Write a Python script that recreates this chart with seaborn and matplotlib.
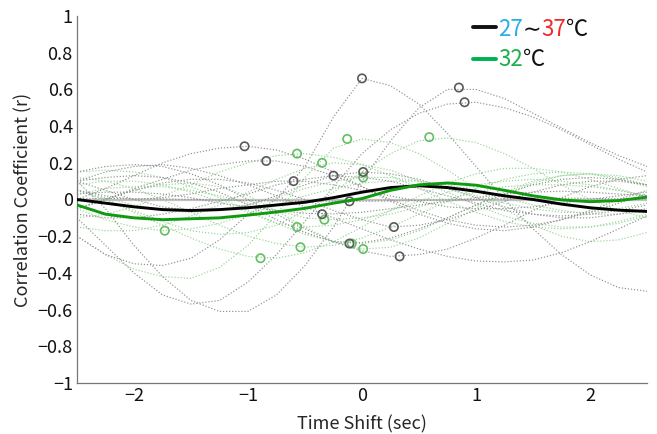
import numpy as np
import pandas as pd
import matplotlib
matplotlib.use("Agg")
import matplotlib.pyplot as plt
import seaborn as sns

# ---------------- data ----------------
lag = [-2.5, -2.25, -2.0, -1.75, -1.5, -1.25, -1.0, -0.75, -0.5, -0.25, 0.0,
       0.25, 0.5, 0.75, 1.0, 1.25, 1.5, 1.75, 2.0, 2.25, 2.5]

mean_all = [0.0, -0.02, -0.04, -0.055, -0.06, -0.055, -0.045, -0.03, -0.015, 0.01, 0.04,
            0.065, 0.075, 0.065, 0.045, 0.02, 0.0, -0.025, -0.045, -0.058, -0.065]
mean_32 = [-0.03, -0.08, -0.10, -0.11, -0.105, -0.10, -0.085, -0.068, -0.048, -0.02, 0.005,
           0.05, 0.08, 0.09, 0.078, 0.05, 0.02, -0.002, -0.012, -0.006, 0.013]

gray_curves = [
    [-0.2, -0.3, -0.35, -0.36, -0.32, -0.22, -0.08, 0.0, 0.18, 0.45, 0.66, 0.62, 0.52, 0.36, 0.18, 0.0, -0.16, -0.3, -0.41, -0.48, -0.5],
    [0.1, -0.05, -0.25, -0.42, -0.55, -0.61, -0.61, -0.52, -0.36, -0.15, 0.1, 0.32, 0.5, 0.6, 0.6, 0.55, 0.47, 0.39, 0.31, 0.24, 0.18],
    [-0.1, -0.25, -0.4, -0.52, -0.57, -0.55, -0.45, -0.3, -0.12, 0.07, 0.25, 0.38, 0.47, 0.52, 0.53, 0.5, 0.45, 0.38, 0.3, 0.22, 0.15],
    [0.0, 0.06, 0.13, 0.2, 0.25, 0.28, 0.29, 0.27, 0.22, 0.15, 0.07, -0.01, -0.08, -0.13, -0.16, -0.17, -0.15, -0.11, -0.06, 0.0, 0.05],
    [-0.05, 0.0, 0.06, 0.11, 0.16, 0.19, 0.21, 0.21, 0.18, 0.13, 0.07, 0.0, -0.06, -0.11, -0.14, -0.15, -0.14, -0.11, -0.07, -0.02, 0.03],
    [0.05, 0.02, 0.0, 0.01, 0.03, 0.06, 0.08, 0.1, 0.1, 0.08, 0.05, 0.02, -0.01, -0.04, -0.05, -0.05, -0.04, -0.02, 0.0, 0.02, 0.04],
    [0.03, 0.04, 0.04, 0.03, 0.01, -0.02, -0.04, -0.06, -0.075, -0.078, -0.07, -0.05, -0.03, -0.01, 0.01, 0.03, 0.04, 0.045, 0.04, 0.03, 0.02],
    [-0.08, -0.1, -0.1, -0.08, -0.05, -0.01, 0.03, 0.08, 0.11, 0.13, 0.12, 0.1, 0.06, 0.02, -0.02, -0.06, -0.08, -0.09, -0.08, -0.06, -0.03],
    [0.005, 0.006, 0.005, 0.003, 0.0, -0.003, -0.006, -0.008, -0.009, -0.01, -0.01, -0.008, -0.005, -0.002, 0.001, 0.004, 0.006, 0.007, 0.006, 0.004, 0.002],
    [0.1, 0.12, 0.13, 0.12, 0.09, 0.04, -0.03, -0.11, -0.18, -0.23, -0.235, -0.21, -0.16, -0.1, -0.03, 0.03, 0.08, 0.11, 0.12, 0.11, 0.08],
    [0.1, 0.05, 0.0, -0.04, -0.06, -0.06, -0.03, 0.02, 0.08, 0.13, 0.15, 0.14, 0.11, 0.06, 0.01, -0.04, -0.08, -0.1, -0.1, -0.08, -0.05],
    [-0.05, 0.0, 0.05, 0.09, 0.11, 0.11, 0.09, 0.05, 0.0, -0.06, -0.11, -0.15, -0.14, -0.11, -0.06, -0.01, 0.04, 0.08, 0.1, 0.1, 0.08],
    [0.15, 0.18, 0.19, 0.18, 0.14, 0.08, 0.0, -0.08, -0.16, -0.23, -0.28, -0.31, -0.3, -0.27, -0.21, -0.14, -0.06, 0.01, 0.07, 0.11, 0.13],
    [0.1, 0.15, 0.18, 0.19, 0.17, 0.13, 0.08, 0.02, -0.04, -0.1, -0.16, -0.22, -0.27, -0.31, -0.335, -0.34, -0.33, -0.29, -0.23, -0.16, -0.09],
]

green_curves = [
    [-0.05, -0.11, -0.15, -0.17, -0.16, -0.13, -0.08, -0.03, 0.02, 0.06, 0.09, 0.1, 0.1, 0.08, 0.05, 0.01, -0.03, -0.06, -0.08, -0.08, -0.06],
    [0.05, 0.0, -0.07, -0.14, -0.21, -0.27, -0.31, -0.32, -0.29, -0.23, -0.15, -0.06, 0.02, 0.09, 0.14, 0.17, 0.17, 0.15, 0.11, 0.06, 0.01],
    [-0.1, -0.08, -0.04, 0.02, 0.08, 0.15, 0.2, 0.24, 0.25, 0.23, 0.19, 0.13, 0.06, -0.01, -0.07, -0.12, -0.15, -0.16, -0.15, -0.12, -0.08],
    [0.08, 0.1, 0.1, 0.08, 0.04, -0.01, -0.07, -0.13, -0.15, -0.14, -0.11, -0.06, -0.01, 0.04, 0.08, 0.1, 0.11, 0.1, 0.08, 0.05, 0.02],
    [0.12, 0.1, 0.06, 0.0, -0.07, -0.14, -0.2, -0.24, -0.26, -0.25, -0.21, -0.15, -0.08, -0.01, 0.06, 0.11, 0.14, 0.15, 0.14, 0.11, 0.07],
    [-0.15, -0.17, -0.17, -0.14, -0.09, -0.03, 0.04, 0.11, 0.17, 0.2, 0.19, 0.16, 0.1, 0.04, -0.03, -0.09, -0.13, -0.15, -0.15, -0.13, -0.09],
    [0.03, 0.06, 0.07, 0.07, 0.05, 0.02, -0.02, -0.06, -0.1, -0.11, -0.1, -0.08, -0.04, 0.0, 0.04, 0.07, 0.08, 0.08, 0.07, 0.05, 0.02],
    [-0.2, -0.3, -0.38, -0.42, -0.43, -0.37, -0.25, -0.08, 0.12, 0.28, 0.33, 0.31, 0.25, 0.16, 0.06, -0.05, -0.14, -0.2, -0.23, -0.22, -0.18],
    [0.05, 0.01, -0.03, -0.06, -0.07, -0.06, -0.03, 0.01, 0.06, 0.1, 0.12, 0.12, 0.1, 0.06, 0.02, -0.02, -0.05, -0.07, -0.07, -0.05, -0.02],
    [-0.05, 0.0, 0.05, 0.08, 0.09, 0.07, 0.02, -0.06, -0.15, -0.23, -0.27, -0.26, -0.21, -0.13, -0.05, 0.03, 0.09, 0.13, 0.14, 0.12, 0.08],
    [0.15, 0.16, 0.15, 0.12, 0.07, 0.01, -0.06, -0.13, -0.19, -0.23, -0.24, -0.22, -0.17, -0.1, -0.03, 0.04, 0.1, 0.13, 0.14, 0.13, 0.1],
    [0.05, 0.0, -0.06, -0.12, -0.17, -0.19, -0.18, -0.14, -0.06, 0.04, 0.15, 0.25, 0.32, 0.335, 0.31, 0.25, 0.17, 0.08, 0.0, -0.06, -0.1],
]

gray_peak_x = [-1.03, -0.84, -0.60, -0.35, -0.25, -0.11, -0.11, 0.0, 0.01, 0.28, 0.33, 0.85, 0.90]
gray_peak_y = [0.29, 0.21, 0.10, -0.08, 0.13, -0.01, -0.24, 0.66, 0.15, -0.15, -0.31, 0.61, 0.53]
green_peak_x = [-1.73, -0.89, -0.57, -0.57, -0.54, -0.35, -0.33, -0.13, 0.01, 0.01, -0.09, 0.59]
green_peak_y = [-0.17, -0.32, 0.25, -0.15, -0.26, 0.20, -0.11, 0.33, 0.12, -0.27, -0.24, 0.34]

x_ticks = [-2, -1, 0, 1, 2]
x_tick_labels = ["\u22122", "\u22121", "0", "1", "2"]
y_ticks = [-1, -0.8, -0.6, -0.4, -0.2, 0, 0.2, 0.4, 0.6, 0.8, 1]
y_tick_labels = ["\u22121", "\u22120.8", "\u22120.6", "\u22120.4", "\u22120.2", "0",
                 "0.2", "0.4", "0.6", "0.8", "1"]

# ---------------- style ----------------
sns.set_style("white")
plt.rcParams["font.family"] = ["Noto Sans CJK JP", "DejaVu Sans"]
plt.rcParams["axes.unicode_minus"] = True

fig = plt.figure(figsize=(6.57, 4.34), dpi=100)
ax = fig.add_axes([77 / 657, 1 - 383 / 434, 570 / 657, 367 / 434])

def long_frame(curves):
    rows = []
    for i, c in enumerate(curves):
        for x, y in zip(lag, c):
            rows.append((i, x, y))
    return pd.DataFrame(rows, columns=["curve", "lag", "r"])

# zero line
ax.axhline(0, color="#c2c2c2", lw=1.6, zorder=1)

dot = (0, (1, 1.6))
sns.lineplot(data=long_frame(green_curves), x="lag", y="r", units="curve",
             estimator=None, color="#95d495", lw=0.85, linestyle=dot, ax=ax, zorder=2)
sns.lineplot(data=long_frame(gray_curves), x="lag", y="r", units="curve",
             estimator=None, color="#909090", lw=0.85, linestyle=dot, ax=ax, zorder=2)

sns.scatterplot(x=green_peak_x, y=green_peak_y, s=36, facecolor="none",
                edgecolor="#62c062", linewidth=1.2, ax=ax, zorder=3)
sns.scatterplot(x=gray_peak_x, y=gray_peak_y, s=36, facecolor="none",
                edgecolor="#5a5a5a", linewidth=1.2, ax=ax, zorder=3)

means = pd.DataFrame({"lag": lag * 2,
                      "r": mean_all + mean_32,
                      "group": ["all"] * len(lag) + ["32"] * len(lag)})
sns.lineplot(data=means, x="lag", y="r", hue="group",
             palette={"all": "#000000", "32": "#0f9a0f"}, lw=2.1,
             ax=ax, legend=False, zorder=4)

ax.set_xlim(-2.5, 2.5)
ax.set_ylim(-1, 1)
ax.set_xticks(x_ticks)
ax.set_xticklabels(x_tick_labels)
ax.set_yticks(y_ticks)
ax.set_yticklabels(y_tick_labels)
ax.tick_params(axis="both", direction="in", length=4, width=0.8, color="#777777",
               labelsize=13, labelcolor="#111111", pad=3)
for side in ["top", "right"]:
    ax.spines[side].set_visible(False)
for side in ["left", "bottom"]:
    ax.spines[side].set_color("#777777")
    ax.spines[side].set_linewidth(0.9)

ax.set_xlabel("Time Shift (sec)", fontsize=13, labelpad=7)
ax.set_ylabel("Correlation Coefficient (r)", fontsize=13, labelpad=4)

# custom legend
fs = 16
ax.plot([473, 496], [407, 407], color="#111111", lw=2.8, transform=None, clip_on=False)
ax.plot([473, 496], [375, 375], color="#00b050", lw=2.8, transform=None, clip_on=False)

def colored_row(pieces, x, y):
    t = fig.text(x, y, pieces[0][0], color=pieces[0][1], fontsize=fs, va="center",
                 ha="left")
    for s, c in pieces[1:]:
        t = ax.annotate(s, xy=(1, 0), xycoords=t, xytext=(0, 0), textcoords="offset points",
                        color=c, fontsize=fs, va="bottom", ha="left")
    return t

colored_row([("27", "#29aee6"), ("\u223c", "#111111"), ("37", "#f02a2a"), ("\u2103", "#111111")],
            498 / 657, 1 - 29 / 434)
colored_row([("32", "#1fae4a"), ("\u2103", "#111111")], 498 / 657, 1 - 59 / 434)

fig.savefig("out.png", dpi=100)
